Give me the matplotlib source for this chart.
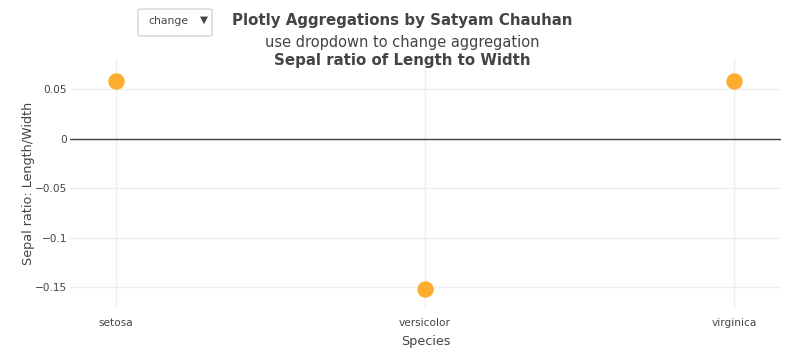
import matplotlib
matplotlib.use("Agg")
import matplotlib.pyplot as plt
from matplotlib.patches import FancyBboxPatch

plt.rcParams['font.family'] = ['DejaVu Sans']

species = ["setosa", "versicolor", "virginica"]
ratio = [0.058, -0.1515, 0.058]
yticks = [0.05, 0, -0.05, -0.1, -0.15]
ytick_labels = ["0.05", "0", "\u22120.05", "\u22120.1", "\u22120.15"]

fig = plt.figure(figsize=(8, 3.6), dpi=100)
ax = fig.add_axes([70/800, 52/360, 711/800, 250/360])

xs = list(range(len(species)))
ax.scatter(xs, ratio, s=140, color="#FCAD2E", zorder=3, linewidths=0)
ax.axhline(0, color="#444444", linewidth=1, zorder=2)

ax.set_xlim(-0.149, 2.152)
ax.set_ylim(-0.171, 0.0813)
ax.set_xticks(xs)
ax.set_xticklabels(species)
ax.set_yticks(yticks)
ax.set_yticklabels(ytick_labels)
ax.grid(True, color="#eeeeee", linewidth=1, zorder=0)
ax.set_axisbelow(True)
for s in ax.spines.values():
    s.set_visible(False)
ax.tick_params(length=0, colors="#444444", labelsize=7.6)
ax.tick_params(axis='x', pad=7)
ax.tick_params(axis='y', pad=2)
ax.set_xlabel("Species", fontsize=9.2, color="#444444", labelpad=5)
ax.set_ylabel("Sepal ratio: Length/Width", fontsize=9.2, color="#444444", labelpad=0)

fig.text(0.503, 1 - 21/360, "Plotly Aggregations by Satyam Chauhan", ha="center", va="center",
         fontsize=10.8, fontweight="bold", color="#444444")
fig.text(0.503, 1 - 43/360, "use dropdown to change aggregation", ha="center", va="center",
         fontsize=10.5, color="#444444")
fig.text(0.503, 1 - 61/360, "Sepal ratio of Length to Width", ha="center", va="center",
         fontsize=10.8, fontweight="bold", color="#444444")

box = FancyBboxPatch((138/800, 1 - 36/360), 74/800, 27/360,
                     boxstyle="round,pad=0,rounding_size=0.004",
                     transform=fig.transFigure, facecolor="white", edgecolor="#d4d4d4", linewidth=1)
fig.add_artist(box)
fig.text(168/800, 1 - 21/360, "change", ha="center", va="center", fontsize=7.8, color="#444444")
fig.text(204/800, 1 - 20/360, "\u25bc", ha="center", va="center", fontsize=7.5, color="#444444")

fig.savefig("out.png", dpi=100)
